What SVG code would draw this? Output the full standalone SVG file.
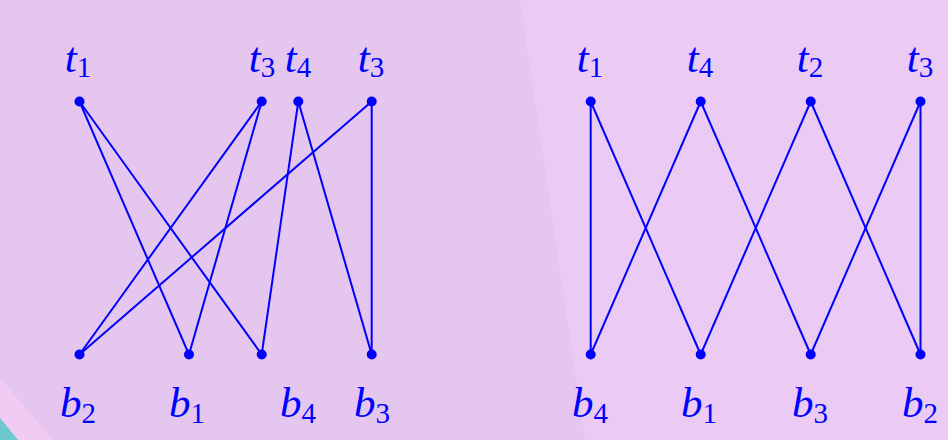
<svg xmlns="http://www.w3.org/2000/svg" width="948" height="440" viewBox="0 0 948 440">
<style>
.bgL{fill:#E4C6EE}
.bgR{fill:#EBCAF4}
.e{stroke:#0000FF;stroke-width:2;fill:none;stroke-linecap:round}
.d{fill:#0000FF}
.lbl{font-family:"Liberation Serif","DejaVu Serif",serif;font-style:italic;font-size:43px;fill:#0000FF;text-anchor:middle}
.sub{font-style:normal;font-size:29px}
</style>
<rect class="bgL" x="0" y="0" width="948" height="440"/>
<polygon class="bgR" points="520,0 948,0 948,440 585,440"/>
<polygon fill="#F2CBF4" points="0,378 53,440 18,440 0,418"/>
<polygon fill="#6CC8CC" points="0,418 18,440 0,440"/>
<g id="connectors">
<line class="e" x1="79.5" y1="101.5" x2="189" y2="354.5"/>
<line class="e" x1="79.5" y1="101.5" x2="261.7" y2="354.5"/>
<line class="e" x1="261.7" y1="101.5" x2="79.5" y2="354.5"/>
<line class="e" x1="261.7" y1="101.5" x2="189" y2="354.5"/>
<line class="e" x1="298.3" y1="101.5" x2="261.7" y2="354.5"/>
<line class="e" x1="298.3" y1="101.5" x2="371.7" y2="354.5"/>
<line class="e" x1="371.7" y1="101.5" x2="79.5" y2="354.5"/>
<line class="e" x1="371.7" y1="101.5" x2="371.7" y2="354.5"/>
<line class="e" x1="590.7" y1="101.5" x2="590.7" y2="354.5"/>
<line class="e" x1="590.7" y1="101.5" x2="700.7" y2="354.5"/>
<line class="e" x1="700.7" y1="101.5" x2="590.7" y2="354.5"/>
<line class="e" x1="700.7" y1="101.5" x2="810.7" y2="354.5"/>
<line class="e" x1="810.7" y1="101.5" x2="700.7" y2="354.5"/>
<line class="e" x1="810.7" y1="101.5" x2="920.5" y2="354.5"/>
<line class="e" x1="920.5" y1="101.5" x2="810.7" y2="354.5"/>
<line class="e" x1="920.5" y1="101.5" x2="920.5" y2="354.5"/>
</g>
<g id="L-t1"><circle class="d" cx="79.5" cy="101.5" r="5"/><text class="lbl" x="78" y="72">t<tspan class="sub" dy="5">1</tspan></text></g>
<g id="L-t3a"><circle class="d" cx="261.7" cy="101.5" r="5"/><text class="lbl" x="262" y="72">t<tspan class="sub" dy="5">3</tspan></text></g>
<g id="L-t4"><circle class="d" cx="298.3" cy="101.5" r="5"/><text class="lbl" x="298" y="72">t<tspan class="sub" dy="5">4</tspan></text></g>
<g id="L-t3b"><circle class="d" cx="371.7" cy="101.5" r="5"/><text class="lbl" x="371" y="72">t<tspan class="sub" dy="5">3</tspan></text></g>
<g id="L-b2"><circle class="d" cx="79.5" cy="354.5" r="5"/><text class="lbl" x="78" y="417">b<tspan class="sub" dy="6">2</tspan></text></g>
<g id="L-b1"><circle class="d" cx="189" cy="354.5" r="5"/><text class="lbl" x="187" y="417">b<tspan class="sub" dy="6">1</tspan></text></g>
<g id="L-b4"><circle class="d" cx="261.7" cy="354.5" r="5"/><text class="lbl" x="298" y="417">b<tspan class="sub" dy="6">4</tspan></text></g>
<g id="L-b3"><circle class="d" cx="371.7" cy="354.5" r="5"/><text class="lbl" x="372" y="417">b<tspan class="sub" dy="6">3</tspan></text></g>
<g id="R-t1"><circle class="d" cx="590.7" cy="101.5" r="5"/><text class="lbl" x="590" y="72">t<tspan class="sub" dy="5">1</tspan></text></g>
<g id="R-t4"><circle class="d" cx="700.7" cy="101.5" r="5"/><text class="lbl" x="700" y="72">t<tspan class="sub" dy="5">4</tspan></text></g>
<g id="R-t2"><circle class="d" cx="810.7" cy="101.5" r="5"/><text class="lbl" x="810" y="72">t<tspan class="sub" dy="5">2</tspan></text></g>
<g id="R-t3"><circle class="d" cx="920.5" cy="101.5" r="5"/><text class="lbl" x="920" y="72">t<tspan class="sub" dy="5">3</tspan></text></g>
<g id="R-b4"><circle class="d" cx="590.7" cy="354.5" r="5"/><text class="lbl" x="590" y="417">b<tspan class="sub" dy="6">4</tspan></text></g>
<g id="R-b1"><circle class="d" cx="700.7" cy="354.5" r="5"/><text class="lbl" x="699" y="417">b<tspan class="sub" dy="6">1</tspan></text></g>
<g id="R-b3"><circle class="d" cx="810.7" cy="354.5" r="5"/><text class="lbl" x="810" y="417">b<tspan class="sub" dy="6">3</tspan></text></g>
<g id="R-b2"><circle class="d" cx="920.5" cy="354.5" r="5"/><text class="lbl" x="920" y="417">b<tspan class="sub" dy="6">2</tspan></text></g>
</svg>
